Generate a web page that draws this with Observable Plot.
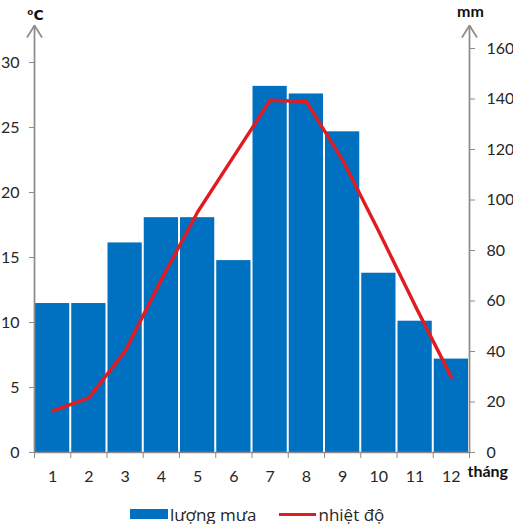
<!DOCTYPE html>
<html>
<head>
<meta charset="utf-8">
<script src="https://cdn.jsdelivr.net/npm/d3@7"></script>
<script src="https://cdn.jsdelivr.net/npm/@observablehq/plot@0.6"></script>
<style>
  html, body { margin: 0; padding: 0; background: #fff; }
  #wrap { position: relative; width: 513px; height: 524px; overflow: hidden; }
  #legend { position: absolute; left: 0; top: 502px; height: 24px; width: 513px;
    display: flex; align-items: center; padding-left: 130px; box-sizing: border-box;
    font-family: "Open Sans", sans-serif; font-size: 17px; color: #262626; }
  .sw { display: inline-block; width: 38px; height: 10px; background: #0070C0; }
  .ln { display: inline-block; width: 37px; height: 3px; background: #e11b22; margin-left: 23px; }
  .lt { margin-left: 2px; line-height: 1; }
</style>
</head>
<body>
<div id="wrap"><div id="chart"></div>
<div id="legend"><span class="sw"></span><span class="lt">lượng mưa</span><span class="ln"></span><span class="lt">nhiệt độ</span></div>
</div>
<script>
// ---- data ----
const months = [1, 2, 3, 4, 5, 6, 7, 8, 9, 10, 11, 12];
const rainfall = [59, 59, 83, 93, 93, 76, 145, 142, 127, 71, 52, 37];      // mm (right axis)
const temperature = [3.2, 4.2, 7.8, 13.3, 18.5, 22.8, 27.1, 27.0, 22.5, 17.0, 11.3, 5.8]; // °C (left axis)
const leftTicks = [0, 5, 10, 15, 20, 25, 30];
const rightTicks = [0, 20, 40, 60, 80, 100, 120, 140, 160];
const xLabel = "tháng";
const leftUnit = "⁰C";
const rightUnit = "mm";

// scale relationship between the two y axes (160 mm sits at 31.08 °C)
const mmPerDeg = 160 / 31.08;
const yTop = 32.85;           // top of the axes (arrow tips), in °C units

const data = months.map((m, i) => ({m, rain: rainfall[i], temp: temperature[i]}));
const boundaries = [...months.map(m => m - 0.5), months[months.length - 1] + 0.5];
const xDom = [boundaries[0], boundaries[boundaries.length - 1]];

const axisGray = "#8c8c8c";
const textColor = "#262626";

function chevron(color, context) {
  const doc = context && context.document ? context.document : document;
  const ns = "http://www.w3.org/2000/svg";
  const marker = doc.createElementNS(ns, "marker");
  marker.setAttribute("viewBox", "-15 -10 18 20");
  marker.setAttribute("markerWidth", 18);
  marker.setAttribute("markerHeight", 20);
  marker.setAttribute("markerUnits", "userSpaceOnUse");
  marker.setAttribute("refX", 0);
  marker.setAttribute("refY", 0);
  marker.setAttribute("orient", "auto");
  const p = doc.createElementNS(ns, "path");
  p.setAttribute("d", "M-12,-7.5L0,0L-12,7.5");
  p.setAttribute("fill", "none");
  p.setAttribute("stroke", axisGray);
  p.setAttribute("stroke-width", 1.75);
  marker.appendChild(p);
  return marker;
}

const chart = Plot.plot({
  width: 513,
  height: 500,
  marginLeft: 34,
  marginRight: 44,
  marginTop: 25,
  marginBottom: 48,
  x: {domain: xDom, label: null},
  y: {domain: [0, yTop], label: null},
  style: {fontFamily: "Lato, sans-serif", fontSize: "16px", color: textColor, background: "#fff", overflow: "visible"},
  marks: [
    Plot.rectY(data, {
      x1: d => d.m - 0.5, x2: d => d.m + 0.5,
      y1: 0, y2: d => d.rain / mmPerDeg,
      fill: "#0070C0", insetLeft: 1, insetRight: 1
    }),
    Plot.line(data, {x: "m", y: "temp", stroke: "#e11b22", strokeWidth: 3.4, strokeLinejoin: "miter"}),
    // axis lines
    Plot.ruleY([0], {x1: xDom[0], x2: xDom[1], stroke: axisGray, strokeWidth: 1.5}),
    Plot.link([xDom[0], xDom[1]], {x1: d => d, x2: d => d, y1: 0, y2: yTop, stroke: axisGray, strokeWidth: 1.75, markerEnd: chevron}),
    // left axis (°C)
    Plot.axisY({anchor: "left", ticks: leftTicks, tickSize: 5, tickPadding: 10, stroke: axisGray, fill: textColor, fontSize: 16, tickFormat: d => d, label: null}),
    // right axis (mm)
    Plot.axisY({anchor: "right", ticks: rightTicks.map(v => v / mmPerDeg), tickSize: 5, tickPadding: 12, stroke: axisGray, fill: textColor, fontSize: 16,
      tickFormat: d => Math.round(d * mmPerDeg), label: null}),
    // bottom axis: ticks at category boundaries, labels at centres
    Plot.axisX({anchor: "bottom", ticks: boundaries, tickSize: 6, stroke: axisGray, tickFormat: () => "", label: null}),
    Plot.axisX({anchor: "bottom", ticks: months, tickSize: 0, tickPadding: 18, fill: textColor, fontSize: 16, tickFormat: d => d, label: null}),
    // unit labels
    Plot.text([xLabel], {frameAnchor: "bottom-right", dx: -2, dy: 24, textAnchor: "start", fontWeight: "bold", fontSize: 16, fill: "#111"}),
    Plot.text([leftUnit], {frameAnchor: "top-left", dx: 1, dy: -15, textAnchor: "middle", fontWeight: "bold", fontSize: 14, fill: "#111", fontFamily: "DejaVu Sans"}),
    Plot.text([rightUnit], {frameAnchor: "top-right", dx: 1, dy: -20, textAnchor: "middle", fontWeight: "bold", fontSize: 16, fill: "#111"})
  ]
});
document.getElementById("chart").appendChild(chart);
</script>
</body>
</html>
